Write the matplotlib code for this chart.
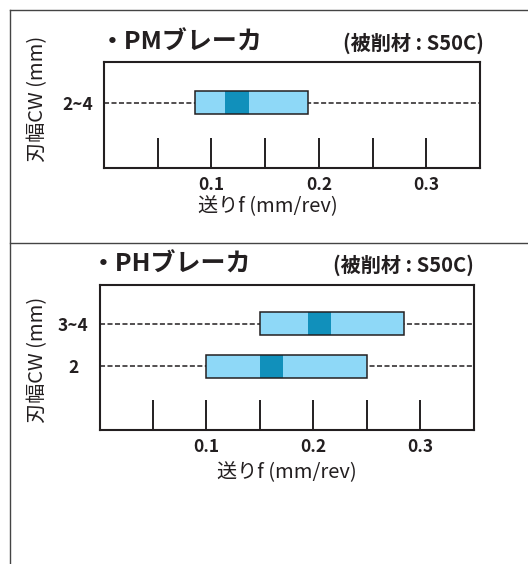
import matplotlib.pyplot as plt
from matplotlib.lines import Line2D
from matplotlib.patches import Rectangle

plt.rcParams['font.family'] = ['Noto Sans CJK JP', 'DejaVu Sans']

W, H = 528, 564
INK = "#231f20"
LIGHT = "#8ed8f7"
DARK = "#1190bb"

# feed ranges (mm/rev) per cutting width
pm_widths = ["2~4"]
pm_low = [0.085]
pm_high = [0.19]
pm_rec_low = [0.113]
pm_rec_high = [0.135]

ph_widths = ["2", "3~4"]
ph_low = [0.10, 0.15]
ph_high = [0.25, 0.285]
ph_rec_low = [0.15, 0.195]
ph_rec_high = [0.172, 0.217]

tick_pos = [0.05, 0.10, 0.15, 0.20, 0.25, 0.30]
tick_labels = ["", "0.1", "", "0.2", "", "0.3"]


def px_axes(fig, left, top, right, bottom):
    return fig.add_axes([left / W, 1 - bottom / H, (right - left) / W, (bottom - top) / H])


def draw_panel(ax, widths, low, high, rec_low, rec_high, ylim):
    rows = list(range(len(widths)))
    bar_h = 0.55
    for r, lo, hi, rlo, rhi in zip(rows, low, high, rec_low, rec_high):
        ax.axhline(r, color=INK, lw=1.1, dashes=(3.3, 1.6), zorder=1)
        ax.add_patch(Rectangle((lo, r - bar_h / 2), hi - lo, bar_h, facecolor=LIGHT,
                               edgecolor="none", zorder=2))
        ax.add_patch(Rectangle((rlo, r - bar_h / 2), rhi - rlo, bar_h, facecolor=DARK,
                               edgecolor="none", zorder=3))
        ax.add_patch(Rectangle((lo, r - bar_h / 2), hi - lo, bar_h, facecolor="none",
                               edgecolor=INK, lw=1.1, zorder=4))
    ax.set_xlim(0, 0.35)
    ax.set_ylim(*ylim)
    ax.set_xticks(tick_pos, tick_labels)
    ax.set_yticks(rows, widths)
    ax.tick_params(axis="x", direction="in", length=21.5, width=1.4, color=INK, pad=6,
                   labelsize=12.5, labelcolor=INK)
    ax.tick_params(axis="y", length=0, pad=19, labelsize=12.5, labelcolor=INK)
    for lab in ax.get_xticklabels() + ax.get_yticklabels():
        lab.set_fontweight("bold")
    for lab in ax.get_yticklabels():
        lab.set_horizontalalignment("center")
    for sp in ax.spines.values():
        sp.set_linewidth(1.5)
        sp.set_color(INK)


fig = plt.figure(figsize=(W / 100, H / 100), dpi=100)

# panel frames
fig.add_artist(Line2D([9.5 / W, 9.5 / W], [0, 1 - 10 / H], color="#444444", lw=1.0))
fig.add_artist(Line2D([9.5 / W, 1], [1 - 10 / H, 1 - 10 / H], color="#444444", lw=1.0))
fig.add_artist(Line2D([9.5 / W, 1], [1 - 243 / H, 1 - 243 / H], color="#444444", lw=1.0))

ax1 = px_axes(fig, 104, 62, 480, 168)
draw_panel(ax1, pm_widths, pm_low, pm_high, pm_rec_low, pm_rec_high, (-1.54, 0.96))

ax2 = px_axes(fig, 99.5, 284.5, 473.5, 430)
draw_panel(ax2, ph_widths, ph_low, ph_high, ph_rec_low, ph_rec_high, (-1.51, 1.93))

# titles
fig.text(100 / W, 1 - 43 / H, "・PMブレーカ", fontsize=18, fontweight="bold", color=INK,
         ha="left", va="center")
fig.text(484 / W, 1 - 43 / H, "(被削材 : S50C)", fontsize=14.5, fontweight="bold", color=INK,
         ha="right", va="center")
fig.text(91 / W, 1 - 265 / H, "・PHブレーカ", fontsize=18, fontweight="bold", color=INK,
         ha="left", va="center")
fig.text(474 / W, 1 - 265 / H, "(被削材 : S50C)", fontsize=14.5, fontweight="bold", color=INK,
         ha="right", va="center")

# axis labels
for ax_y in [99, 360]:
    fig.text(38 / W, 1 - ax_y / H, "刃幅CW (mm)", fontsize=14.5, rotation=90, color=INK,
             ha="center", va="center")
fig.text(268 / W, 1 - 207 / H, "送りf (mm/rev)", fontsize=14.5, color=INK, ha="center", va="center")
fig.text(287 / W, 1 - 473 / H, "送りf (mm/rev)", fontsize=14.5, color=INK, ha="center", va="center")

fig.savefig("out.png", dpi=100)
